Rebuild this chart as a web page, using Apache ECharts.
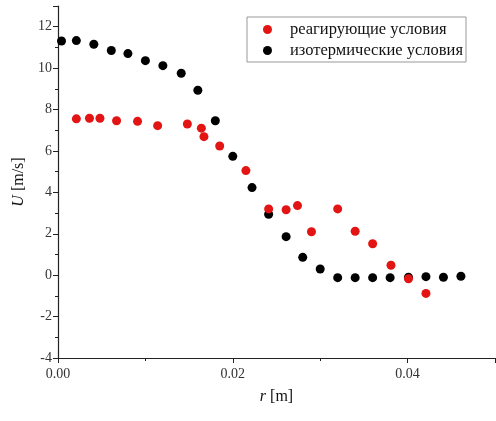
<!DOCTYPE html>
<html>
<head>
<meta charset="utf-8">
<script src="https://cdn.jsdelivr.net/npm/echarts@6/dist/echarts.min.js"></script>
<style>
  html, body { margin: 0; padding: 0; background: #fff; }
  #main { width: 496px; height: 421px; }
</style>
</head>
<body>
<div id="main"></div>
<script>
// данные
var seriesNames = ['реагирующие условия', 'изотермические условия'];

var reactR = [0.0021, 0.0036, 0.0048, 0.0067, 0.0091, 0.0114, 0.0148, 0.0164, 0.0167, 0.0185,
              0.0215, 0.0241, 0.0261, 0.0274, 0.0290, 0.0320, 0.0340, 0.0360, 0.0381, 0.0401, 0.0421];
var reactU = [7.55, 7.58, 7.58, 7.46, 7.43, 7.22, 7.30, 7.10, 6.69, 6.24,
              5.05, 3.20, 3.16, 3.36, 2.10, 3.20, 2.12, 1.52, 0.48, -0.17, -0.88];

var isoR = [0.0004, 0.0021, 0.0041, 0.0061, 0.0080, 0.0100, 0.0120, 0.0141, 0.0160, 0.0180,
            0.0200, 0.0222, 0.0241, 0.0261, 0.0280, 0.0300, 0.0320, 0.0340, 0.0360, 0.0380,
            0.0401, 0.0421, 0.0441, 0.0461];
var isoU = [11.31, 11.33, 11.15, 10.85, 10.70, 10.36, 10.12, 9.75, 8.93, 7.46,
            5.74, 4.23, 2.94, 1.86, 0.86, 0.30, -0.12, -0.12, -0.12, -0.12,
            -0.10, -0.07, -0.10, -0.05];

function zip(xs, ys) {
  return xs.map(function (x, i) { return [x, ys[i]]; });
}

var font = 'Liberation Serif';
var chart = echarts.init(document.getElementById('main'));

var option = {
  backgroundColor: '#fff',
  animation: false,
  grid: { left: 58, right: 1, top: 6, bottom: 63, containLabel: false },
  legend: {
    left: 247,
    top: 17,
    orient: 'vertical',
    borderColor: '#999',
    borderWidth: 1,
    padding: [4, 3, 3, 16],
    itemGap: 4,
    itemWidth: 9,
    itemHeight: 9,
    icon: 'circle',
    textStyle: { fontFamily: font, fontSize: 16.5, color: '#111', lineHeight: 16, padding: [0, 0, 0, 13] },
    data: seriesNames
  },
  xAxis: {
    type: 'value',
    min: 0,
    max: 0.05,
    interval: 0.02,
    name: '{i|r} [m]',
    nameLocation: 'middle',
    nameGap: 31,
    nameTextStyle: {
      fontFamily: font, fontSize: 16, color: '#111',
      rich: { i: { fontFamily: font, fontSize: 16, fontStyle: 'italic', color: '#111' } }
    },
    axisLine: { show: true, onZero: false, lineStyle: { color: '#222', width: 1.2 } },
    axisTick: { show: true, inside: false, length: 5, lineStyle: { color: '#222' } },
    minorTick: { show: true, splitNumber: 2, length: 3, lineStyle: { color: '#222' } },
    splitLine: { show: false },
    axisLabel: {
      fontFamily: font, fontSize: 14, color: '#333', margin: 9,
      showMaxLabel: false,
      formatter: function (v) { return v.toFixed(2); }
    }
  },
  yAxis: {
    type: 'value',
    min: -4,
    max: 13,
    interval: 2,
    name: '{i|U} [m/s]',
    nameLocation: 'middle',
    nameGap: 27,
    nameTextStyle: {
      fontFamily: font, fontSize: 16, color: '#111',
      rich: { i: { fontFamily: font, fontSize: 16, fontStyle: 'italic', color: '#111' } }
    },
    axisLine: { show: true, onZero: false, lineStyle: { color: '#222', width: 1.2 } },
    axisTick: { show: true, inside: false, length: 5, lineStyle: { color: '#222' } },
    minorTick: { show: true, splitNumber: 2, length: 3, lineStyle: { color: '#222' } },
    splitLine: { show: false },
    axisLabel: {
      fontFamily: font, fontSize: 14, color: '#333', margin: 6,
      showMaxLabel: false
    }
  },
  series: [
    {
      name: seriesNames[0],
      type: 'scatter',
      symbol: 'circle',
      symbolSize: 9,
      itemStyle: { color: '#e31414', opacity: 1 },
      data: zip(reactR, reactU),
      z: 3
    },
    {
      name: seriesNames[1],
      type: 'scatter',
      symbol: 'circle',
      symbolSize: 9,
      itemStyle: { color: '#000', opacity: 1 },
      data: zip(isoR, isoU),
      z: 2
    }
  ]
};

chart.setOption(option);
</script>
</body>
</html>
